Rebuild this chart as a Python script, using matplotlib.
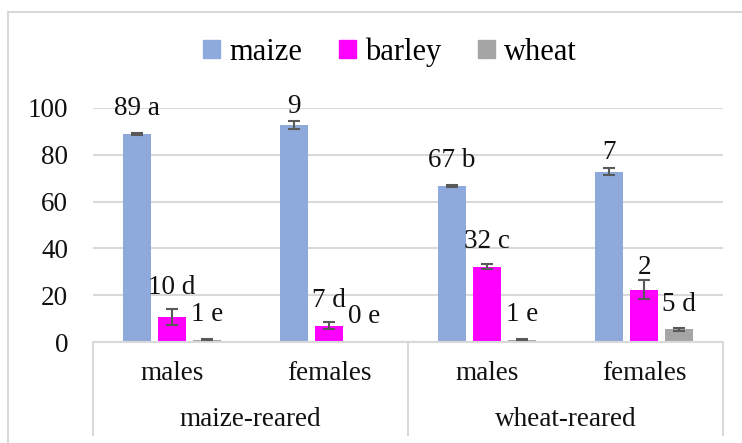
import matplotlib.pyplot as plt
import numpy as np
from matplotlib.lines import Line2D
from matplotlib.patches import Patch

plt.rcParams['font.family'] = ['Liberation Serif', 'DejaVu Serif']

# data
groups = ["maize-reared", "wheat-reared"]
sexes = ["males", "females", "males", "females"]
series = ["maize", "barley", "wheat"]
colors = ["#8EA9DB", "#FF00FF", "#A5A5A5"]

maize = [88.9, 92.7, 66.8, 72.8]
barley = [10.5, 7.0, 32.2, 22.4]
wheat = [1.0, 0.0, 1.0, 5.4]
maize_err = [0.5, 1.6, 0.5, 1.6]
barley_err = [3.4, 1.6, 1.0, 4.0]
wheat_err = [0.3, 0.0, 0.3, 0.5]

maize_lab = ["89 a", "9", "67 b", "7"]
barley_lab = ["10 d", "7 d", "32 c", "2"]
wheat_lab = ["1 e", "0 e", "1 e", "5 d"]

W, H = 742, 443
fig = plt.figure(figsize=(W / 100, H / 100), dpi=100)
ax = fig.add_axes([93 / W, (H - 342) / H, (723 - 93) / W, (342 - 108) / H])

x = np.arange(len(sexes))
vals = [maize, barley, wheat]
errs = [maize_err, barley_err, wheat_err]
labs = [maize_lab, barley_lab, wheat_lab]
# label lift above bar top, points (per series, per category)
lift = [[13.5, 9, 13.5, 9], [17, 13.5, 13.5, 11], [13.5, 13.5, 13.5, 13.5]]
off = 0.222
bw = 0.178

for i in range(3):
    xs = x + (i - 1) * off
    ax.bar(xs, vals[i], bw, color=colors[i], zorder=2)
    v = np.array(vals[i])
    e = np.array(errs[i])
    keep = e > 0  # no whisker where there is no error
    ax.errorbar(xs[keep], v[keep], yerr=e[keep], fmt="none", ecolor="#595959",
                elinewidth=1.5, capsize=4, capthick=1.5, zorder=3)
    for xx, vv, t, d in zip(xs, vals[i], labs[i], lift[i]):
        ax.annotate(t, (xx, vv), xytext=(0, d), textcoords="offset points",
                    ha="center", va="baseline", fontsize=19.5, color="#111111",
                    annotation_clip=False, zorder=4)

ax.set_xlim(-0.5, 3.5)
ax.set_ylim(0, 100)
ax.set_yticks([0, 20, 40, 60, 80, 100])
ax.tick_params(axis="y", length=0, pad=18, labelsize=19.5, labelcolor="#111111")
ax.set_xticks([])
ax.grid(axis="y", color="#D9D9D9", linewidth=1.5, zorder=0)
ax.set_axisbelow(True)
for s in ["top", "right", "left"]:
    ax.spines[s].set_visible(False)
ax.spines["bottom"].set_color("#D9D9D9")
ax.spines["bottom"].set_linewidth(1.5)

# multi level category axis
tr = ax.get_xaxis_transform()
ybot = (342 - 435) / (342 - 108)
for xv in [-0.5, 1.5, 3.5]:
    ax.plot([xv, xv], [0, ybot], transform=tr, color="#D9D9D9", lw=1.5,
            clip_on=False)
for xx, s in zip(x, sexes):
    ax.text(xx, (342 - 373) / (342 - 108), s, transform=tr, ha="center",
            va="center", fontsize=19.5, color="#111111")
for k, g in enumerate(groups):
    ax.text(0.5 + 2 * k, (342 - 420) / (342 - 108), g, transform=tr,
            ha="center", va="center", fontsize=19.5, color="#111111")

# chart border
fig.add_artist(Line2D([8 / W, 8 / W], [0, 1 - 12 / H], color="#D9D9D9", lw=1.5))
fig.add_artist(Line2D([8 / W, 1], [1 - 12 / H, 1 - 12 / H], color="#D9D9D9", lw=1.5))

handles = [Patch(color=c) for c in colors]
fig.legend(handles, series, loc="center", bbox_to_anchor=(390 / W, 1 - 52 / H),
           ncol=3, frameon=False, fontsize=22, handlelength=0.55,
           handleheight=0.55, handletextpad=0.3, columnspacing=1.2)

fig.savefig("out.png", dpi=100)
